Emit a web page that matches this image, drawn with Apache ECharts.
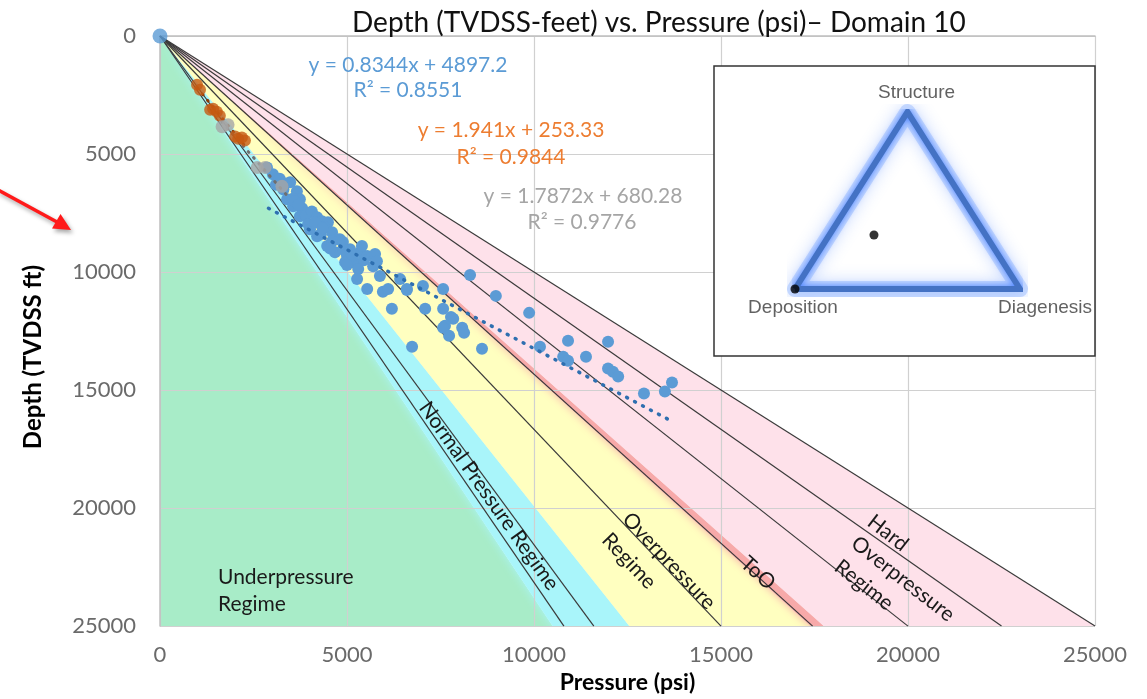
<!DOCTYPE html>
<html>
<head>
<meta charset="utf-8">
<script src="https://cdn.jsdelivr.net/npm/echarts@6/dist/echarts.min.js"></script>
<style>
  html, body { margin: 0; padding: 0; background: #fff; }
  #chart { width: 1147px; height: 699px; }
</style>
</head>
<body>
<div id="chart"></div>
<script>
// pressure (psi) vs depth (ft) pairs
const originPoint = [[0, 0]]
const bluePoints = [
  [2860, 5570], [3020, 5860], [3100, 6300], [3300, 6500], [3480, 6200], [3660, 6580],
  [3740, 6920], [3400, 6920], [3550, 6900], [3800, 7300], [3560, 7210], [3740, 7640],
  [3900, 7600], [3960, 7970], [4060, 7430], [4200, 7680], [4330, 7850], [4490, 7890],
  [4010, 8190], [4400, 8100], [4300, 8400], [4200, 8480], [4600, 8310], [4730, 8610],
  [4810, 8610], [4890, 8730], [4470, 8900], [5080, 9030], [5000, 9300], [4680, 9160],
  [5350, 9160], [5540, 9320], [5750, 9240], [5400, 8900], [4950, 9580], [5200, 9600],
  [5300, 9870], [5700, 9750], [5800, 9540], [5270, 10290], [5880, 10170], [5540, 10720],
  [5960, 10840], [6100, 10720], [6200, 11560], [6420, 10300], [6600, 10720], [6600, 10760],
  [7030, 10590], [7090, 11560], [7570, 10720], [7570, 11560], [7780, 11900], [7840, 11980],
  [7620, 12280], [7570, 12360], [7730, 12700], [8080, 12360], [8130, 12570], [8610, 13250],
  [6740, 13170], [8290, 10130], [8980, 11010], [9870, 11730], [10160, 13170], [10780, 13590],
  [10910, 12910], [10910, 13760], [11390, 13590], [11980, 12950], [11980, 14090], [12110, 14220],
  [12250, 14430], [12940, 15150], [13500, 15060], [13690, 14680],
  [3200, 6050], [3350, 6250], [3600, 7000], [3700, 7150], [4150, 7900], [4350, 8150],
  [4600, 8700], [4900, 9050], [5150, 9300], [5450, 9500], [4550, 9000], [5000, 9700]
]
const orangePoints = [
  [990, 2070], [1070, 2280], [1340, 3120], [1420, 3080], [1520, 3210], [1600, 3380],
  [2010, 4260], [2090, 4350], [2190, 4300], [2270, 4430]
]
const grayPoints = [[1660, 3840], [1820, 3760], [2600, 5570], [2810, 5570], [3260, 6370]]

const blueTrend = [[2900, 7300], [13600, 16250]]
const orangeTrend = [[1000, 2200], [2300, 4720]]
const grayTrend = [[1650, 3630], [3450, 6850]]

// pressure gradient lines: from the origin to these pressures at 25000 ft
const gradientEnds = [10800, 11600, 15000, 17450, 20000, 22500, 25000]
// regime zone edges at 25000 ft
const zoneEdges = [0, 10500, 12550, 17400, 17750, 25000]
const zoneColors = ['#a8ecc8', '#a9f5fa', '#ffffc0', '#f7a9a9', '#fee1ea']
const zoneBlur = [0, 10, 0, 8, 0]

// ternary inset
const insetNames = ['Deposition', 'Diagenesis', 'Structure']
const insetX = [0, 1, 0.5]
const insetY = [0, 0, 1]
const insetDots = [[0, 0], [0.351, 0.305]]

const chart = echarts.init(document.getElementById('chart'))

const zoneData = zoneEdges.slice(0, -1).map((e, i) => [e, zoneEdges[i + 1], 25000, i])

const gradientSeries = gradientEnds.map(x => ({
  type: 'line',
  data: [[0, 0], [x, 25000]],
  symbol: 'none',
  silent: true,
  z: 3,
  lineStyle: { color: '#3a3a3a', width: 1.2 }
}))

const trianglePath = insetX.map((x, i) => [x, insetY[i]]).concat([[insetX[0], insetY[0]]])

const labelFont = { fontFamily: 'Lato', fontSize: 21 }

function regimeText(text, x, y, angle) {
  return {
    type: 'text', x, y, rotation: -angle * Math.PI / 180, z: 30,
    style: { text, ...labelFont, fill: '#1a1a1a', align: 'center', verticalAlign: 'middle' }
  }
}

function eqText(text, x, y, color) {
  return {
    type: 'text', x, y, z: 30,
    style: { text, fontFamily: 'Lato', fontSize: 21, fill: color, align: 'center', verticalAlign: 'middle' }
  }
}

const option = {
  animation: false,
  backgroundColor: '#fff',
  title: {
    text: 'Depth (TVDSS-feet) vs. Pressure (psi)\u2013 Domain 10',
    left: 347,
    top: 4,
    textStyle: { fontFamily: 'Lato', fontSize: 28, fontWeight: 'normal', color: '#111' }
  },
  grid: [
    { left: 160, top: 36, right: 52, bottom: 71 },
    { left: 795, top: 112, width: 225, height: 177 }
  ],
  xAxis: [
    {
      type: 'value', min: 0, max: 25000, interval: 5000, z: 1,
      name: 'Pressure (psi)', nameLocation: 'middle', nameGap: 44,
      nameTextStyle: { fontFamily: 'Lato', fontSize: 23, fontWeight: 'bold', color: '#000' },
      axisLine: { show: true, lineStyle: { color: '#bfbfbf', width: 1.5 } },
      axisTick: { show: false },
      axisLabel: { margin: 18, fontFamily: 'Lato', fontSize: 22, color: '#6a6a6a', formatter: v => String(v) },
      splitLine: { lineStyle: { color: '#d0d0d0', width: 1.2 } }
    },
    { gridIndex: 1, type: 'value', min: 0, max: 1, show: false }
  ],
  yAxis: [
    {
      type: 'value', min: 0, max: 25000, interval: 5000, inverse: true, z: 1,
      axisLine: { show: true, lineStyle: { color: '#bfbfbf', width: 1.5 } },
      axisTick: { show: false },
      axisLabel: { margin: 24, fontFamily: 'Lato', fontSize: 22, color: '#6a6a6a', formatter: v => String(v) },
      splitLine: { lineStyle: { color: '#d0d0d0', width: 1.2 } }
    },
    { gridIndex: 1, type: 'value', min: 0, max: 1, show: false }
  ],
  series: [
    {
      type: 'custom',
      z: 0,
      silent: true,
      clip: true,
      data: zoneData,
      encode: { x: [0, 1], y: 2 },
      renderItem: (params, api) => {
        const p0 = api.coord([0, 0])
        const p1 = api.coord([api.value(0), api.value(2)])
        const p2 = api.coord([api.value(1), api.value(2)])
        const i = api.value(3)
        return {
          type: 'polygon',
          shape: { points: [p0, p1, p2] },
          style: { fill: zoneColors[i], shadowBlur: zoneBlur[i], shadowColor: zoneColors[i] }
        }
      }
    },
    ...gradientSeries,
    {
      type: 'line', data: blueTrend, symbol: 'none', z: 5, silent: true,
      lineStyle: { color: '#2e6fb0', width: 3.5, type: [1, 8], cap: 'round' }
    },
    {
      type: 'line', data: orangeTrend, symbol: 'none', z: 5, silent: true,
      lineStyle: { color: '#8a3a08', width: 3, type: [1, 7], cap: 'round' }
    },
    {
      type: 'line', data: grayTrend, symbol: 'none', z: 5, silent: true,
      lineStyle: { color: '#6f6f6f', width: 3, type: [1, 7], cap: 'round' }
    },
    {
      type: 'scatter', data: bluePoints, symbolSize: 12, z: 4,
      itemStyle: { color: '#5b9bd5', opacity: 1 }
    },
    {
      type: 'scatter', data: orangePoints, symbolSize: 12, z: 6,
      itemStyle: { color: '#c55a11' }
    },
    {
      type: 'scatter', data: grayPoints, symbolSize: 13, z: 6,
      itemStyle: { color: '#a5a5a5' }
    },
    {
      type: 'scatter', data: originPoint, symbolSize: 15, z: 6,
      itemStyle: { color: '#5b9bd5' }
    },
    // inset triangle: soft glow underneath, then the solid outline
    {
      type: 'line', xAxisIndex: 1, yAxisIndex: 1, data: trianglePath, symbol: 'none', z: 58, silent: true,
      lineStyle: {
        color: 'rgba(120,165,255,0.35)', width: 16, join: 'round', cap: 'round',
        shadowBlur: 16, shadowColor: 'rgba(90,140,255,0.9)'
      }
    },
    {
      type: 'line', xAxisIndex: 1, yAxisIndex: 1, data: trianglePath, symbol: 'none', z: 60, silent: true,
      lineStyle: {
        color: '#4472c4', width: 6, join: 'miter',
        shadowBlur: 6, shadowColor: 'rgba(60,120,255,0.9)'
      }
    },
    {
      type: 'scatter', xAxisIndex: 1, yAxisIndex: 1, symbolSize: 0, z: 61, silent: true,
      data: insetNames.map((n, i) => ({
        value: [insetX[i], insetY[i]],
        name: n,
        label: {
          show: true,
          formatter: '{b}',
          position: i === 2 ? 'top' : 'bottom',
          distance: i === 2 ? 10 : 9,
          offset: i === 1 ? [25, 0] : (i === 2 ? [9, 0] : [-2, 0]),
          fontFamily: 'Liberation Sans', fontSize: 19, color: '#3a3a3a'
        }
      }))
    },
    {
      type: 'scatter', xAxisIndex: 1, yAxisIndex: 1, data: insetDots, symbolSize: 9, z: 62, silent: true,
      itemStyle: { color: '#000' }
    }
  ],
  graphic: [
    {
      type: 'rect', z: 50,
      shape: { x: 714, y: 66, width: 381, height: 290 },
      style: { fill: '#fff', stroke: '#333', lineWidth: 1.5 }
    },
    {
      type: 'text', x: 33, y: 357, rotation: Math.PI / 2, z: 30,
      style: {
        text: 'Depth (TVDSS ft)', fontFamily: 'Lato', fontSize: 24, fontWeight: 'bold',
        fill: '#000', align: 'center', verticalAlign: 'middle'
      }
    },
    // red pointer arrow
    {
      type: 'line', z: 30,
      shape: { x1: -2, y1: 190, x2: 57, y2: 222 },
      style: { stroke: '#ff1a1a', lineWidth: 3.5, shadowBlur: 4, shadowColor: 'rgba(0,0,0,0.35)', shadowOffsetX: 2, shadowOffsetY: 3 }
    },
    {
      type: 'polygon', z: 30,
      shape: { points: [[71, 230], [52, 228.5], [60.5, 214]] },
      style: { fill: '#ff1a1a', shadowBlur: 4, shadowColor: 'rgba(0,0,0,0.35)', shadowOffsetX: 2, shadowOffsetY: 3 }
    },
    eqText('y = 0.8344x + 4897.2', 408, 65, '#5b9bd5'),
    eqText('R\u00b2 = 0.8551', 408, 90, '#5b9bd5'),
    eqText('y = 1.941x + 253.33', 511, 130, '#ed7d31'),
    eqText('R\u00b2 = 0.9844', 511, 157, '#ed7d31'),
    eqText('y = 1.7872x + 680.28', 583, 196, '#a5a5a5'),
    eqText('R\u00b2 = 0.9776', 582, 222, '#a5a5a5'),
    {
      type: 'text', x: 218, y: 577, z: 30,
      style: { text: 'Underpressure', ...labelFont, fill: '#1a1a1a', verticalAlign: 'middle' }
    },
    {
      type: 'text', x: 218, y: 604, z: 30,
      style: { text: 'Regime', ...labelFont, fill: '#1a1a1a', verticalAlign: 'middle' }
    },
    regimeText('Normal Pressure Regime', 489, 496, 54.7),
    regimeText('Overpressure', 669, 561, 46.5),
    regimeText('Regime', 629, 561, 46.5),
    regimeText('ToO', 758, 573, 42),
    regimeText('Hard', 888, 533, 38),
    regimeText('Overpressure', 903, 579, 38),
    regimeText('Regime', 864, 585, 38)
  ]
}

chart.setOption(option)

window.addEventListener('resize', () => {
  chart.resize()
})
</script>
</body>
</html>
